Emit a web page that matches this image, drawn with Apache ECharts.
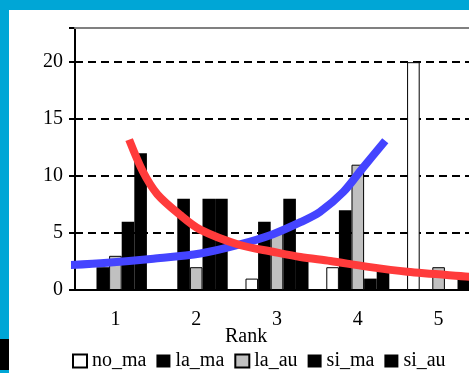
<!DOCTYPE html>
<html>
<head>
<meta charset="utf-8">
<script src="https://cdn.jsdelivr.net/npm/echarts@6/dist/echarts.min.js"></script>
<style>
  html, body { margin: 0; padding: 0; }
  #show { width: 469px; height: 373px; }
</style>
</head>
<body>
<div id="show"></div>
<script>
var myChart = echarts.init(document.getElementById("show"));

// ranks on the x axis
var ranks = ['1', '2', '3', '4', '5'];

// bar values per rank
var noMa = [0, 0, 1, 2, 20];
var laMa = [2, 8, 6, 7, 0];
var laAu = [3, 2, 5, 11, 2];
var siMa = [6, 8, 8, 1, 0];
var siAu = [12, 8, 3, 2, 1];

// fitted curves, x in rank units
var blueX = [0.28, 0.9, 1.47, 2.05, 2.54, 2.95, 3.29, 3.53, 3.82, 4.06, 4.34];
var blueY = [2.13, 2.4, 2.75, 3.2, 4.0, 4.9, 5.95, 6.85, 8.6, 10.7, 13.1];
var redX = [1.17, 1.34, 1.52, 1.8, 2.05, 2.54, 2.95, 3.29, 3.66, 4.11, 4.61, 5.38, 5.5];
var redY = [13.2, 10.4, 8.4, 6.6, 5.3, 3.95, 3.36, 2.9, 2.55, 2.05, 1.6, 1.17, 1.1];

var serif = 'Liberation Serif';

function pairs(xs, ys) {
    return xs.map(function (x, i) { return [x, ys[i]]; });
}

function bar(name, values, fill, border) {
    return {
        name: name,
        type: 'bar',
        data: values,
        barGap: '0%',
        barCategoryGap: '22%',
        itemStyle: {
            color: fill,
            borderColor: border,
            borderWidth: border ? 1 : 0
        }
    };
}

myChart.setOption({
    backgroundColor: '#00a6d6',
    animation: false,
    graphic: [
        { type: 'rect', z: -100, shape: { x: 9, y: 10, width: 460, height: 363 }, style: { fill: '#fff' } },
        { type: 'rect', z: -100, shape: { x: 0, y: 339, width: 9, height: 31 }, style: { fill: '#000' } },
        {
            type: 'text', left: 225, top: 327,
            style: { text: 'Rank', font: '20px "Liberation Serif"', fill: '#000' }
        }
    ],
    legend: {
        left: 72,
        top: 350,
        padding: 0,
        itemWidth: 14,
        itemHeight: 13,
        itemGap: 10,
        icon: 'rect',
        data: ['no_ma', 'la_ma', 'la_au', 'si_ma', 'si_au'],
        textStyle: { fontFamily: serif, fontSize: 20, color: '#000', lineHeight: 22 }
    },
    grid: {
        left: 75,
        top: 28,
        width: 404,
        height: 262,
        outerBoundsMode: 'none'
    },
    xAxis: [
        {
            type: 'category',
            data: ranks,
            axisLine: { lineStyle: { color: '#000', width: 2 } },
            axisTick: { length: 6, lineStyle: { color: '#000', width: 2 } },
            axisLabel: { margin: 20, fontFamily: serif, fontSize: 20, color: '#000' }
        },
        {
            type: 'value',
            position: 'top',
            min: 0.5,
            max: 5.5,
            z: 5,
            axisLine: { show: true, lineStyle: { color: '#808080', width: 2 } },
            axisTick: { show: false },
            axisLabel: { show: false },
            splitLine: { show: false }
        }
    ],
    yAxis: {
        type: 'value',
        min: 0,
        max: 23,
        interval: 5,
        axisLine: { show: true, lineStyle: { color: '#000', width: 2 } },
        axisTick: { show: true, length: 6, lineStyle: { color: '#000', width: 2 } },
        axisLabel: {
            margin: 12,
            fontFamily: serif,
            fontSize: 20,
            color: '#000',
            formatter: function (v) { return v % 5 === 0 ? v : ''; }
        },
        splitLine: { lineStyle: { color: '#000', width: 2, type: [8, 5] } }
    },
    series: [
        bar('no_ma', noMa, '#fff', '#000'),
        bar('la_ma', laMa, '#000', null),
        bar('la_au', laAu, '#c0c0c0', '#000'),
        bar('si_ma', siMa, '#000', null),
        bar('si_au', siAu, '#000', null),
        {
            name: 'blue',
            type: 'line',
            xAxisIndex: 1,
            data: pairs(blueX, blueY),
            showSymbol: false,
            symbol: 'none',
            smooth: 0.3,
            clip: false,
            lineStyle: { color: '#4444ff', width: 8 }
        },
        {
            name: 'red',
            type: 'line',
            xAxisIndex: 1,
            data: pairs(redX, redY),
            showSymbol: false,
            symbol: 'none',
            smooth: 0.3,
            clip: false,
            lineStyle: { color: '#ff3b3b', width: 8 }
        }
    ]
});
</script>
</body>
</html>
